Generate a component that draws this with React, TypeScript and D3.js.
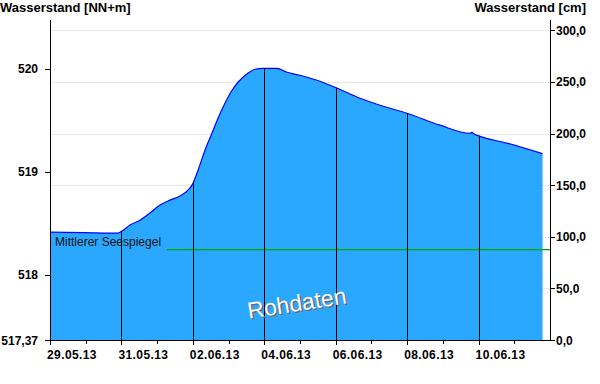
import React from "react";
import * as d3 from "d3";

const times = [
  "2013-05-29T00:00", "2013-05-29T23:30", "2013-05-30T21:40", "2013-05-31T00:20",
  "2013-05-31T05:45", "2013-05-31T12:30", "2013-05-31T19:10", "2013-06-01T01:55",
  "2013-06-01T08:40", "2013-06-01T15:20", "2013-06-01T20:45", "2013-06-01T23:25",
  "2013-06-02T03:30", "2013-06-02T08:10", "2013-06-02T12:50", "2013-06-02T16:55",
  "2013-06-02T21:35", "2013-06-03T02:20", "2013-06-03T06:20", "2013-06-03T13:00",
  "2013-06-03T17:45", "2013-06-03T23:10", "2013-06-04T08:30", "2013-06-04T15:15",
  "2013-06-05T00:00", "2013-06-05T11:25", "2013-06-05T23:30", "2013-06-06T16:20",
  "2013-06-07T05:45", "2013-06-07T23:55", "2013-06-08T22:05", "2013-06-09T18:15",
  "2013-06-09T19:30", "2013-06-09T20:45", "2013-06-09T23:35", "2013-06-10T19:05",
  "2013-06-11T19:00",
];
const levels = [
  518.415, 518.410, 518.405, 518.425,
  518.483, 518.531, 518.600, 518.677,
  518.725, 518.764, 518.822, 518.870,
  519.015, 519.209, 519.373, 519.518,
  519.664, 519.789, 519.867, 519.954,
  519.993, 520.002, 520.002, 519.964,
  519.935, 519.886, 519.818, 519.712,
  519.644, 519.567, 519.451, 519.373,
  519.382, 519.368, 519.350, 519.277,
  519.175,
];
const leftTicks = [518, 519, 520];
const rightTicks = [0, 50, 100, 150, 200, 250, 300];
const meanLevel = 518.25;
const meanLabel = "Mittlerer Seespiegel";
const leftTitle = "Wasserstand [NN+m]";
const rightTitle = "Wasserstand [cm]";
const watermark = "Rohdaten";
const xStart = "2013-05-29T00:00";
const xEnd = "2013-06-12T00:00";
const yMin = 517.37;
const yMax = 520.47;

const FONT = "'Liberation Sans', Arial, sans-serif";
const FILL = "#2aa8ff";

export default function App() {
  const parse = d3.timeParse("%Y-%m-%dT%H:%M");
  const data = times.map((t, i) => ({ t: parse(t) as Date, v: levels[i] }));
  const L = 50, R = 550, T = 20, B = 340;
  const x = d3.scaleTime().domain([parse(xStart) as Date, parse(xEnd) as Date]).range([L, R]);
  const y = d3.scaleLinear().domain([yMin, yMax]).range([B, T]);
  const yCm = d3.scaleLinear().domain([0, (yMax - yMin) * 100]).range([B, T]);

  const area = d3.area<{ t: Date; v: number }>()
    .x((d) => x(d.t))
    .y0(B)
    .y1((d) => y(d.v))
    .curve(d3.curveMonotoneX);
  const line = d3.line<{ t: Date; v: number }>()
    .x((d) => x(d.t))
    .y((d) => y(d.v))
    .curve(d3.curveMonotoneX);

  const bis = d3.bisector((d: { t: Date }) => d.t).left;
  const levelAt = (t: Date) => {
    const i = bis(data, t);
    if (i <= 0) return data[0].v;
    if (i >= data.length) return data[data.length - 1].v;
    const a = data[i - 1], b = data[i];
    const f = (+t - +a.t) / (+b.t - +a.t);
    return a.v + f * (b.v - a.v);
  };

  const [d0, d1] = x.domain();
  const majorTicks = d3.timeDay.range(d0, d1, 2);
  const minorTicks = d3.timeDay.range(d0, d1).filter((d, i) => i % 2 === 1);
  const fmt = d3.timeFormat("%d.%m.%y");
  const lastT = data[data.length - 1].t;

  const fmtCm = (v: number) => v.toFixed(1).replace(".", ",");
  const ym = Math.round(y(meanLevel));

  return (
    <svg width={600} height={384} style={{ position: "absolute", left: 0, top: 0, background: "#fff" }} fontFamily={FONT}>
      <rect x={0} y={0} width={600} height={384} fill="#fff" />
      {/* gridlines */}
      {rightTicks.filter((v) => v > 0).map((v) => (
        <line key={"g" + v} x1={L} x2={R} y1={Math.round(yCm(v)) + 0.5} y2={Math.round(yCm(v)) + 0.5} stroke="#e8e8e8" strokeWidth={1} />
      ))}
      {/* area */}
      <path d={area(data) || ""} fill={FILL} />
      <path d={line(data) || ""} fill="none" stroke="#0000ff" strokeWidth={1.2} />
      {/* mean level line */}
      <rect x={L} y={ym} width={R - L + 1} height={1.3} fill="#00a800" />
      <rect x={L + 1} y={ym - 15} width={116} height={18} fill={FILL} />
      <text x={L + 5} y={ym - 3} fontSize={12} fill="#111">{meanLabel}</text>
      {/* vertical lines */}
      {majorTicks.filter((d) => +d > +d0 && +d < +lastT).map((d) => (
        <line key={"v" + +d} x1={Math.round(x(d)) + 0.5} x2={Math.round(x(d)) + 0.5} y1={B} y2={y(levelAt(d))} stroke="#000" strokeWidth={1} />
      ))}
      {/* watermark */}
      <g transform="translate(298,311) rotate(-9)">
        <text x={1.5} y={1.5} textAnchor="middle" fontSize={23} fill="#6a6a6a">{watermark}</text>
        <text x={0} y={0} textAnchor="middle" fontSize={23} fill="#fff">{watermark}</text>
      </g>
      {/* axes */}
      <line x1={L + 0.5} x2={L + 0.5} y1={T} y2={B + 5} stroke="#000" />
      <line x1={R + 0.5} x2={R + 0.5} y1={T} y2={B} stroke="#000" />
      <line x1={L} x2={R + 1} y1={B + 0.5} y2={B + 0.5} stroke="#000" />
      {/* left ticks */}
      {leftTicks.map((v) => (
        <g key={"l" + v}>
          <line x1={L - 5} x2={L} y1={Math.round(y(v)) + 0.5} y2={Math.round(y(v)) + 0.5} stroke="#000" />
          <text x={38} y={y(v) + 4.5} textAnchor="end" fontSize={12} fontWeight="bold">{v}</text>
        </g>
      ))}
      <line x1={L - 5} x2={L} y1={B + 0.5} y2={B + 0.5} stroke="#000" />
      <text x={38} y={B + 4.5} textAnchor="end" fontSize={12} fontWeight="bold">{String(yMin).replace(".", ",")}</text>
      {/* right ticks */}
      {rightTicks.map((v) => (
        <g key={"r" + v}>
          <line x1={R} x2={R + 5} y1={Math.round(yCm(v)) + 0.5} y2={Math.round(yCm(v)) + 0.5} stroke="#000" />
          <text x={R + 6} y={yCm(v) + 4.5} fontSize={12} fontWeight="bold">{fmtCm(v)}</text>
        </g>
      ))}
      {/* bottom ticks */}
      {majorTicks.map((d) => (
        <g key={"b" + +d}>
          <line x1={Math.round(x(d)) + 0.5} x2={Math.round(x(d)) + 0.5} y1={B} y2={B + 5} stroke="#000" />
          <text x={x(d) - 3} y={359} fontSize={12} fontWeight="bold" letterSpacing={0.4}>{fmt(d)}</text>
        </g>
      ))}
      {minorTicks.map((d) => (
        <line key={"m" + +d} x1={Math.round(x(d)) + 0.5} x2={Math.round(x(d)) + 0.5} y1={B} y2={B + 4} stroke="#000" />
      ))}
      {/* titles */}
      <text x={0} y={12} fontSize={13} fontWeight="bold">{leftTitle}</text>
      <text x={586} y={12} textAnchor="end" fontSize={13} fontWeight="bold">{rightTitle}</text>
    </svg>
  );
}
